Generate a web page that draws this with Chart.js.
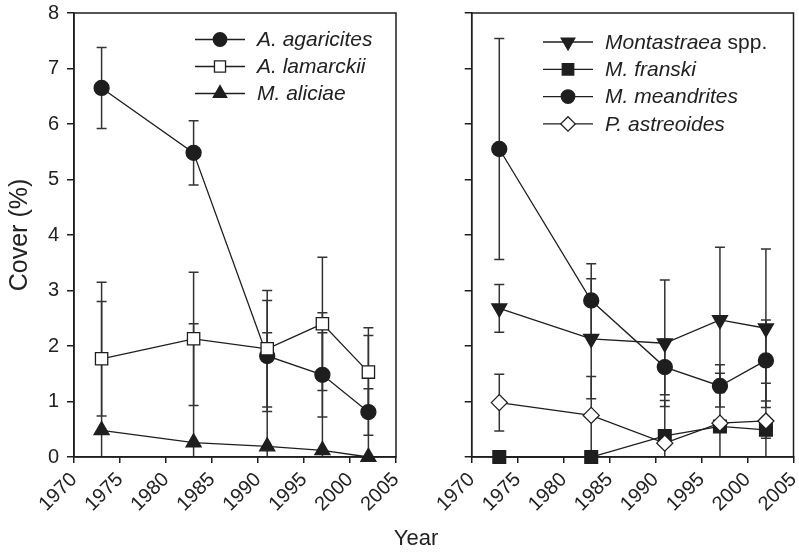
<!DOCTYPE html>
<html>
<head>
<meta charset="utf-8">
<script src="https://cdn.jsdelivr.net/npm/chart.js@4.4.0/dist/chart.umd.min.js"></script>
<style>
body { margin: 0; background: #fff; }
#wrap { position: relative; width: 799px; height: 556px; font-family: 'Liberation Sans', Arial, sans-serif; }
#left { position: absolute; left: 0; top: 0; width: 400px; height: 556px; }
#right { position: absolute; left: 400px; top: 0; width: 399px; height: 556px; }
#year { position: absolute; left: 366px; width: 100px; top: 527px; text-align: center; font-size: 22px; line-height: 22px; color: #222; }
</style>
</head>
<body>
<div id="wrap">
  <div id="left"><canvas id="c1"></canvas></div>
  <div id="right"><canvas id="c2"></canvas></div>
  <div id="year">Year</div>
</div>
<script>
// ===============================
// = Data
// ===============================
const years = [1973, 1983, 1991, 1997, 2002];
const yearTicks = [1970, 1975, 1980, 1985, 1990, 1995, 2000, 2005];
const coverTicks = [0, 1, 2, 3, 4, 5, 6, 7, 8];

const leftNames = ['A. agaricites', 'A. lamarckii', 'M. aliciae'];
const agaricites = [6.65, 5.48, 1.82, 1.48, 0.81];
const agaricitesErr = [0.73, 0.58, 1.0, 0.76, 0.42];
const lamarckii = [1.77, 2.13, 1.95, 2.40, 1.53];
const lamarckiiErr = [1.03, 1.2, 1.05, 1.2, 0.8];
const aliciae = [0.48, 0.26, 0.19, 0.12, 0.0];
const aliciaeErr = [2.67, 2.14, 2.05, 2.48, 2.19];

const rightNames = ['Montastraea spp.', 'M. franski', 'M. meandrites', 'P. astreoides'];
const montastraea = [2.68, 2.13, 2.05, 2.47, 2.32];
const montastraeaErr = [0.43, 1.08, 1.14, 1.31, 1.43];
const franski = [0, 0, 0.38, 0.55, 0.49];
const franskiErr = [0, 0, 0.1, 0.1, 0.15];
const meandrites = [5.55, 2.82, 1.62, 1.28, 1.74];
const meandritesErr = [1.99, 0.66, 0.5, 0.38, 0.73];
const astreoides = [0.98, 0.75, 0.25, 0.61, 0.65];
const astreoidesErr = [0.51, 0.7, 0.77, 0.9, 0.68];

const ink = '#1e1e1e';
const font = "'Liberation Sans', Arial, sans-serif";

function series(label, values, errors, shape, radius, fill, rotation, order) {
	return {
		label: label,
		data: values.map((v, i) => ({x: years[i], y: v})),
		errors: errors,
		borderColor: ink,
		borderWidth: 1.3,
		pointStyle: shape,
		pointRadius: radius,
		pointHoverRadius: radius,
		pointRotation: rotation,
		pointBackgroundColor: fill,
		pointBorderColor: ink,
		pointBorderWidth: 1.3,
		clip: false,
		order: order
	};
}

// error bars, drawn under the markers
const errorBars = {
	id: 'errorBars',
	beforeDatasetsDraw(chart) {
		const ctx = chart.ctx;
		const y = chart.scales.y;
		ctx.save();
		ctx.strokeStyle = '#333';
		ctx.lineWidth = 1.5;
		chart.data.datasets.forEach((ds, i) => {
			const meta = chart.getDatasetMeta(i);
			ds.data.forEach((p, j) => {
				const e = ds.errors[j];
				if (!e) return;
				const px = meta.data[j].x;
				const hi = y.getPixelForValue(p.y + e);
				const loVal = p.y - e;
				const lo = y.getPixelForValue(Math.max(0, loVal));
				ctx.beginPath();
				ctx.moveTo(px, hi); ctx.lineTo(px, lo);
				ctx.moveTo(px - 5, hi); ctx.lineTo(px + 5, hi);
				if (loVal > 0) { ctx.moveTo(px - 5, lo); ctx.lineTo(px + 5, lo); }
				ctx.stroke();
			});
		});
		const a = chart.chartArea;
		ctx.strokeStyle = ink;
		ctx.lineWidth = 1.5;
		ctx.strokeRect(a.left, a.top, a.right - a.left, a.bottom - a.top);
		ctx.restore();
	}
};

// legend: line, marker, italic name
const lineLegend = {
	id: 'lineLegend',
	afterDraw(chart, args, opts) {
		const ctx = chart.ctx;
		ctx.save();
		chart.data.datasets.forEach((ds, i) => {
			const yy = opts.y + i * opts.step;
			ctx.strokeStyle = ink;
			ctx.lineWidth = 1.3;
			ctx.beginPath();
			ctx.moveTo(opts.x, yy); ctx.lineTo(opts.x + 50, yy);
			ctx.stroke();
			ctx.fillStyle = ds.pointBackgroundColor;
			Chart.helpers.drawPoint(ctx, {
				pointStyle: ds.pointStyle, radius: ds.pointRadius * 0.9,
				rotation: ds.pointRotation, borderWidth: 1.3
			}, opts.x + 25, yy);
			ctx.fillStyle = '#222';
			ctx.textBaseline = 'middle';
			let name = ds.label, rest = '';
			if (name.endsWith(' spp.')) { rest = ' spp.'; name = name.slice(0, -5); }
			ctx.font = 'italic 21px ' + font;
			ctx.fillText(name, opts.x + 62, yy + 1);
			if (rest) {
				const w = ctx.measureText(name).width;
				ctx.font = '21px ' + font;
				ctx.fillText(rest, opts.x + 62 + w, yy + 1);
			}
		});
		ctx.restore();
	}
};

function options(isLeft) {
	return {
		responsive: true,
		maintainAspectRatio: false,
		animation: false,
		layout: { autoPadding: false, padding: { top: 13, right: isLeft ? 4 : 5.5, left: 0, bottom: 0 } },
		plugins: {
			legend: { display: false },
			tooltip: { enabled: false },
			lineLegend: isLeft ? { x: 195, y: 39.5, step: 27 } : { x: 143, y: 42, step: 27.3 }
		},
		scales: {
			x: {
				type: 'linear', min: 1970, max: 2005,
				afterBuildTicks: s => { s.ticks = yearTicks.map(v => ({value: v})); },
				afterFit: s => { s.height = 99; s.paddingLeft = 0; s.paddingRight = 0; },
				grid: { drawOnChartArea: false, tickLength: 6, color: ink, lineWidth: 1.5 },
				border: { color: ink, width: 1.5 },
				ticks: {
					minRotation: 45, maxRotation: 45, color: '#222', padding: 5,
					font: { size: 20, family: font },
					callback: v => String(v)
				}
			},
			y: {
				type: 'linear', min: 0, max: 8,
				afterBuildTicks: s => { s.ticks = coverTicks.map(v => ({value: v})); },
				afterFit: s => { s.width = isLeft ? 74 : 71.7; s.paddingTop = 0; s.paddingBottom = 0; },
				grid: { drawOnChartArea: false, tickLength: 7, color: ink, lineWidth: 1.5 },
				border: { color: ink, width: 1.5 },
				ticks: { display: isLeft, color: '#222', padding: 8, font: { size: 20, family: font } },
				title: { display: isLeft, text: 'Cover (%)', color: '#222', padding: { top: 5, bottom: 0 }, font: { size: 25, family: font } }
			}
		}
	};
}

new Chart(document.getElementById('c1'), {
	type: 'line',
	data: {
		datasets: [
			series(leftNames[0], agaricites, agaricitesErr, 'circle', 7.5, ink, 0, 2),
			series(leftNames[1], lamarckii, lamarckiiErr, 'rect', 8.7, '#fff', 0, 1),
			series(leftNames[2], aliciae, aliciaeErr, 'triangle', 8.7, ink, 0, 3)
		]
	},
	options: options(true),
	plugins: [errorBars, lineLegend]
});

new Chart(document.getElementById('c2'), {
	type: 'line',
	data: {
		datasets: [
			series(rightNames[0], montastraea, montastraeaErr, 'triangle', 8.7, ink, 180, 1),
			series(rightNames[1], franski, franskiErr, 'rect', 9, ink, 0, 3),
			series(rightNames[2], meandrites, meandritesErr, 'circle', 7.5, ink, 0, 2),
			series(rightNames[3], astreoides, astreoidesErr, 'rectRot', 8, '#fff', 0, 0)
		]
	},
	options: options(false),
	plugins: [errorBars, lineLegend]
});
</script>
</body>
</html>
